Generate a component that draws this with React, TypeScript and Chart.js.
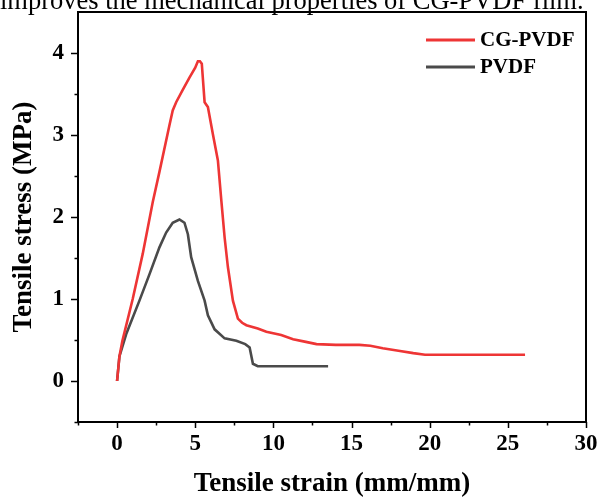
import React, { useEffect, useRef } from "react";
import { Chart, registerables } from "chart.js";

Chart.register(...registerables);

// ---- data ----
const cgStrain = [0, 0.15, 0.34, 1.0, 1.64, 2.28, 2.71, 3.35, 3.56, 3.78, 4.2, 4.63, 5.0, 5.17, 5.3, 5.42, 5.6, 5.81, 6.13, 6.45, 6.67, 6.88, 7.09, 7.41, 7.73, 8.0, 8.27, 9.0, 9.55, 10.5, 11.26, 12.0, 12.76, 14.0, 15.5, 16.2, 17.0, 18.0, 18.95, 19.7, 22.0, 26.1];
const cgStress = [0, 0.3, 0.49, 1.0, 1.55, 2.18, 2.55, 3.12, 3.3, 3.4, 3.55, 3.7, 3.82, 3.9, 3.9, 3.87, 3.4, 3.34, 3.01, 2.69, 2.2, 1.75, 1.39, 0.98, 0.76, 0.71, 0.68, 0.64, 0.6, 0.56, 0.51, 0.48, 0.45, 0.44, 0.44, 0.43, 0.4, 0.37, 0.34, 0.32, 0.32, 0.32];
const pvdfStrain = [0, 0.15, 0.58, 1.43, 2.07, 2.71, 3.14, 3.56, 3.99, 4.31, 4.53, 4.74, 5.17, 5.6, 5.81, 6.24, 6.88, 7.63, 8.2, 8.48, 8.69, 9.0, 9.55, 13.5];
const pvdfStress = [0, 0.3, 0.57, 0.98, 1.3, 1.63, 1.81, 1.93, 1.97, 1.93, 1.79, 1.51, 1.22, 0.98, 0.8, 0.63, 0.52, 0.49, 0.45, 0.41, 0.21, 0.18, 0.18, 0.18];

const seriesNames = ["CG-PVDF", "PVDF"];
const seriesColors = ["#EE3535", "#4A4A4A"];

const xMin = -2.5, xMax = 30, xStep = 2.5, xLabelEvery = 5;
const yMin = -0.5, yMax = 4.5, yStep = 0.5, yLabelEvery = 1;

const xTitle = "Tensile strain (mm/mm)";
const yTitle = "Tensile stress (MPa)";
const captionText = "improves the mechanical properties of CG-PVDF film.";

const SERIF = "'Liberation Serif', 'Times New Roman', serif";

const isMultiple = (v: number, m: number) => {
  const r = Math.abs(v / m - Math.round(v / m));
  return r < 1e-6;
};

const zeroPadding = (s: any) => {
  s.paddingTop = 0;
  s.paddingBottom = 0;
  s.paddingLeft = 0;
  s.paddingRight = 0;
};

const framePlugin = {
  id: "frameAndTicks",
  afterDraw(chart: any) {
    const { ctx, chartArea, scales } = chart;
    const { left, right, top, bottom } = chartArea;
    const xs = scales.x, ys = scales.y;
    ctx.save();
    ctx.strokeStyle = "#000";
    ctx.lineWidth = 1.5;
    xs.ticks.forEach((t: any) => {
      const px = Math.round(xs.getPixelForValue(t.value)) + 0.5;
      const len = isMultiple(t.value, xLabelEvery) ? 6 : 3.5;
      ctx.beginPath();
      ctx.moveTo(px, bottom);
      ctx.lineTo(px, bottom + len);
      ctx.stroke();
    });
    ys.ticks.forEach((t: any) => {
      if (t.value >= yMax - 1e-9) return;
      const py = Math.round(ys.getPixelForValue(t.value)) + 0.5;
      const len = isMultiple(t.value, yLabelEvery) ? 7 : 3.5;
      ctx.beginPath();
      ctx.moveTo(left, py);
      ctx.lineTo(left - len, py);
      ctx.stroke();
    });
    ctx.lineWidth = 2;
    ctx.beginPath();
    ctx.moveTo(left, top);
    ctx.lineTo(right, top);
    ctx.lineTo(right, bottom);
    ctx.lineTo(left, bottom);
    ctx.closePath();
    ctx.stroke();

    // legend
    const lx0 = left + 348, lx1 = left + 397;
    const rows = [top + 28, top + 55];
    ctx.font = `bold 21px ${SERIF}`;
    ctx.textBaseline = "middle";
    ctx.textAlign = "left";
    rows.forEach((ry, i) => {
      ctx.strokeStyle = seriesColors[i];
      ctx.lineWidth = 3;
      ctx.beginPath();
      ctx.moveTo(lx0, ry);
      ctx.lineTo(lx1, ry);
      ctx.stroke();
      ctx.fillStyle = "#000";
      ctx.fillText(seriesNames[i], lx1 + 5, ry + 1);
    });
    ctx.restore();
  },
};

export default function App() {
  const ref = useRef<HTMLCanvasElement | null>(null);

  useEffect(() => {
    document.body.style.margin = "0";
    const canvas = ref.current;
    if (!canvas) return;
    const chart = new Chart(canvas, {
      type: "line",
      data: {
        datasets: [
          {
            label: seriesNames[0],
            data: cgStrain.map((x, i) => ({ x, y: cgStress[i] })),
            borderColor: seriesColors[0],
            backgroundColor: seriesColors[0],
            borderWidth: 2.6,
            pointRadius: 0,
            tension: 0,
            fill: false,
          },
          {
            label: seriesNames[1],
            data: pvdfStrain.map((x, i) => ({ x, y: pvdfStress[i] })),
            borderColor: seriesColors[1],
            backgroundColor: seriesColors[1],
            borderWidth: 2.6,
            pointRadius: 0,
            tension: 0,
            fill: false,
          },
        ],
      },
      options: {
        animation: false,
        responsive: false,
        layout: { padding: { top: 12, right: 14, left: 0, bottom: 0 } },
        plugins: { legend: { display: false }, tooltip: { enabled: false } },
        scales: {
          x: {
            type: "linear",
            min: xMin,
            max: xMax,
            afterFit: (s: any) => { s.height = 75; zeroPadding(s); },
            grid: { display: false, drawTicks: false },
            border: { display: false },
            ticks: {
              stepSize: xStep,
              autoSkip: false,
              maxRotation: 0,
              padding: 8,
              color: "#000",
              font: { family: SERIF, size: 23, weight: "bold" },
              callback: (v: any) => (isMultiple(Number(v), xLabelEvery) ? String(Math.round(Number(v))) : ""),
            },
            title: {
              display: true,
              text: xTitle,
              color: "#000",
              font: { family: SERIF, size: 27, weight: "bold", lineHeight: 1 },
              padding: { top: 0, bottom: -1 },
            },
          },
          y: {
            type: "linear",
            min: yMin,
            max: yMax,
            afterFit: (s: any) => { s.width = 78; zeroPadding(s); },
            grid: { display: false, drawTicks: false },
            border: { display: false },
            ticks: {
              stepSize: yStep,
              autoSkip: false,
              padding: 14,
              color: "#000",
              font: { family: SERIF, size: 23, weight: "bold" },
              callback: (v: any) => (isMultiple(Number(v), yLabelEvery) ? String(Math.round(Number(v))) : ""),
            },
            title: {
              display: true,
              text: yTitle,
              color: "#000",
              font: { family: SERIF, size: 27, weight: "bold", lineHeight: 1.2 },
              padding: { top: 8, bottom: 0 },
            },
          },
        },
      },
      plugins: [framePlugin],
    });
    return () => chart.destroy();
  }, []);

  return (
    <div style={{ position: "absolute", left: 0, top: 0, width: 600, height: 497, overflow: "hidden", background: "#fff" }}>
      <canvas ref={ref} width={600} height={497} style={{ position: "absolute", left: 0, top: 0 }} />
      <div
        style={{
          position: "absolute",
          left: 0,
          top: -13,
          whiteSpace: "nowrap",
          fontFamily: SERIF,
          fontSize: 26.5,
          lineHeight: "26px",
          color: "#000",
        }}
      >
        {captionText}
      </div>
    </div>
  );
}
